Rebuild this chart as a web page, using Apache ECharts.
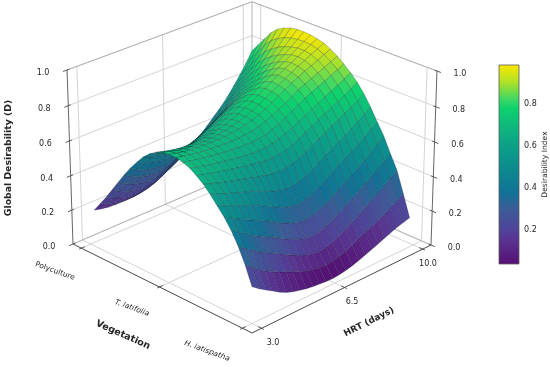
<!DOCTYPE html>
<html><head><meta charset="utf-8">
<style>html,body{margin:0;padding:0;background:#fff}#c{width:550px;height:367px}</style>
<script src="https://cdn.jsdelivr.net/npm/echarts@6/dist/echarts.min.js"></script></head>
<body><div id="c"></div>
<script>
const vegetationTicks=['Polyculture','T. latifolia','H. latispatha'];
const hrtTicks=['3.0','6.5','10.0'];
const zTicks=[0,0.2,0.4,0.6,0.8,1];
const colorbarTicks=[0.2,0.4,0.6,0.8];
const colorValues=[0.038,0.15,0.2,0.3,0.38,0.5,0.6,0.7,0.78,0.82,0.9,0.986];
const colorHex=['#550f73','#5a3290','#50429a','#3c5c98','#117296','#0b8c8e','#0ca088','#0fba7c','#0cd26c','#3cd764','#aae12a','#fde700'];
// one list per vegetation position (Polyculture to H. latispatha), each running from HRT 3 to HRT 10
const surfaceZ=[
[.20,.19,.183,.18,.18,.183,.19,.202,.218,.236,.257,.278,.30,.318,.338,.36,.388,.422,.46,.497,.539,.588,.64,.697,.76],
[.255,.238,.225,.217,.213,.214,.22,.234,.251,.273,.296,.32,.345,.366,.388,.41,.439,.472,.51,.548,.592,.64,.693,.75,.81],
[.31,.288,.272,.261,.255,.254,.26,.274,.293,.317,.339,.365,.39,.413,.436,.46,.49,.524,.56,.60,.644,.6925,.744,.80,.86],
[.37,.346,.327,.314,.306,.305,.31,.325,.346,.366,.39,.415,.44,.465,.49,.515,.545,.579,.615,.656,.699,.746,.797,.853,.91],
[.43,.405,.387,.374,.366,.365,.37,.385,.406,.425,.448,.471,.495,.52,.545,.57,.599,.631,.665,.704,.747,.792,.841,.892,.945],
[.49,.465,.446,.433,.425,.424,.43,.446,.468,.486,.509,.532,.555,.579,.602,.625,.652,.68,.71,.747,.787,.829,.872,.918,.965],
[.545,.522,.504,.4925,.485,.484,.49,.505,.525,.544,.566,.587,.61,.633,.654,.675,.698,.723,.75,.784,.82,.858,.897,.938,.98],
[.595,.576,.561,.551,.545,.545,.55,.563,.58,.596,.615,.635,.655,.675,.695,.715,.737,.76,.785,.816,.848,.881,.915,.95,.986],
[.64,.624,.611,.6025,.597,.597,.60,.609,.622,.637,.653,.671,.69,.71,.729,.75,.771,.792,.815,.842,.871,.8985,.927,.957,.986],
[.675,.66,.648,.64,.635,.633,.635,.642,.651,.664,.679,.696,.713,.733,.753,.775,.796,.818,.84,.865,.888,.912,.936,.959,.983],
[.70,.688,.678,.671,.666,.664,.665,.669,.676,.685,.696,.709,.725,.744,.764,.786,.809,.832,.855,.876,.896,.916,.936,.956,.975],
[.715,.704,.694,.6875,.683,.68,.68,.682,.686,.6925,.701,.712,.725,.742,.762,.783,.805,.828,.85,.87,.89,.909,.928,.946,.965],
[.72,.711,.703,.6975,.693,.691,.69,.69,.692,.696,.701,.709,.72,.736,.754,.775,.797,.818,.84,.859,.878,.894,.911,.928,.945],
[.72,.711,.703,.696,.691,.687,.685,.683,.682,.683,.686,.691,.70,.714,.731,.751,.772,.793,.815,.834,.85,.8675,.885,.902,.92],
[.71,.701,.692,.685,.679,.674,.67,.665,.662,.66,.66,.663,.67,.684,.70,.72,.741,.763,.784,.802,.819,.8365,.8535,.872,.89],
[.695,.684,.674,.665,.658,.651,.645,.639,.634,.63,.628,.63,.635,.646,.66,.678,.698,.718,.738,.756,.775,.794,.813,.834,.855],
[.67,.659,.649,.639,.631,.623,.615,.606,.599,.5925,.588,.587,.59,.60,.614,.632,.652,.673,.6925,.712,.73,.75,.7695,.793,.815],
[.64,.626,.613,.601,.59,.58,.57,.558,.548,.539,.532,.529,.53,.54,.554,.5725,.593,.616,.6365,.657,.676,.6965,.7165,.74,.765],
[.60,.585,.571,.556,.542,.529,.515,.498,.482,.467,.455,.447,.445,.454,.469,.489,.512,.538,.5605,.583,.604,.6265,.6495,.677,.705],
[.555,.538,.521,.504,.488,.472,.455,.433,.413,.393,.376,.365,.36,.369,.384,.405,.43,.456,.4815,.505,.529,.5525,.5775,.605,.635],
[.51,.487,.465,.444,.424,.405,.385,.362,.34,.32,.302,.291,.285,.293,.307,.327,.351,.376,.402,.427,.4515,.478,.506,.5375,.57],
[.455,.427,.40,.375,.353,.331,.31,.287,.265,.245,.228,.216,.21,.217,.231,.25,.273,.298,.323,.348,.374,.40,.427,.455,.485],
[.385,.354,.326,.30,.277,.255,.235,.212,.191,.172,.156,.145,.14,.146,.158,.175,.196,.219,.244,.269,.2935,.32,.347,.3755,.405],
[.30,.267,.237,.21,.188,.168,.15,.131,.115,.10,.089,.082,.08,.084,.093,.105,.123,.143,.165,.175,.195,.215,.24,.26,.285],
[.195,.165,.14,.115,.09,.07,.055,.045,.035,.03,.025,.022,.02,.023,.03,.04,.052,.066,.08,.095,.11,.125,.14,.15,.16]
];
const PAD=0.05,SURF_PAD=0.062;
const cols=surfaceZ.length, rows=surfaceZ[0].length;
const L=[73,244],F=[252,333],R=[431,245],B=[252,167],VP=[252,5465],topY=70;
const dx1=F[0]-R[0],dx2=B[0]-R[0],sx=L[0]-F[0]+R[0]-B[0],dy1=F[1]-R[1],dy2=B[1]-R[1],sy=L[1]-F[1]+R[1]-B[1];
const den=dx1*dy2-dx2*dy1;
const g=(sx*dy2-dx2*sy)/den,h=(dx1*sy-sx*dy1)/den;
const a=F[0]-L[0]+g*F[0],b=B[0]-L[0]+h*B[0],c0=L[0],d=F[1]-L[1]+g*F[1],e=B[1]-L[1]+h*B[1],f0=L[1];
const lam=(topY-L[1])/(VP[1]-topY);
function proj(u,v,w){const W=g*u+h*v+1+w*lam;return [(a*u+b*v+c0+w*lam*VP[0])/W,(d*u+e*v+f0+w*lam*VP[1])/W];}
const uOf=s=>PAD+(1-2*PAD)*s, vOf=t=>PAD+(1-2*PAD)*t;
const uS=s=>SURF_PAD+(1-2*SURF_PAD)*s;
function hexRgb(x){return [parseInt(x.slice(1,3),16),parseInt(x.slice(3,5),16),parseInt(x.slice(5,7),16)];}
function colorAt(z,k){let n=colorValues.length;let i=0;while(i<n-2&&z>colorValues[i+1])i++;
 let q=Math.min(1,Math.max(0,(z-colorValues[i])/(colorValues[i+1]-colorValues[i])));
 const A=hexRgb(colorHex[i]),C=hexRgb(colorHex[i+1]);
 return 'rgb('+[0,1,2].map(m=>Math.round((A[m]+(C[m]-A[m])*q)*k)).join(',')+')';}
const cells=[];
for(let j=0;j<rows-1;j++)for(let i=0;i<cols-1;i++){
 const zm=(surfaceZ[i][j]+surfaceZ[i+1][j]+surfaceZ[i][j+1]+surfaceZ[i+1][j+1])/4;
 const um=uS((i+.5)/(cols-1)),vm=uS((j+.5)/(rows-1));
 cells.push([i,j,zm,(um-vm)*1.77+zm]);
}
cells.sort((p,q)=>p[3]-q[3]);
function cellItem(params,api){
 const i=api.value(0),j=api.value(1),zm=api.value(2);
 const cn=[[i,j],[i+1,j],[i+1,j+1],[i,j+1]];
 const pts=cn.map(([x,y])=>proj(uS(x/(cols-1)),uS(y/(rows-1)),surfaceZ[x][y]));
 let area=0;for(let n=0;n<4;n++){const p=pts[n],q=pts[(n+1)%4];area+=p[0]*q[1]-q[0]*p[1];}
 const under=area>0;
 return {type:'polygon',shape:{points:pts},style:{fill:under?colorAt(zm*0.72,0.92):colorAt(zm,1),stroke:'rgba(15,30,40,0.5)',lineWidth:0.45}};
}
const lines=[];
const pushL=(p,q,col,w)=>lines.push({value:[0],p,q,col,w});
const gridC='#cfcfcf',edgeC='#b4b4b4',axisC='#4a4a4a';
zTicks.forEach(z=>{pushL([0,0,z],[0,1,z],gridC,.9);pushL([0,1,z],[1,1,z],gridC,.9);});
[0,.5,1].forEach(t=>{const v=vOf(t);pushL([0,v,0],[0,v,1],gridC,.9);pushL([0,v,0],[1,v,0],gridC,.9);});
[0,.5,1].forEach(s=>{const u=uOf(s);pushL([u,1,0],[u,1,1],gridC,.9);pushL([u,0,0],[u,1,0],gridC,.9);});
pushL([0,0,1],[0,1,1],edgeC,1);pushL([0,1,1],[1,1,1],edgeC,1);pushL([0,1,0],[0,1,1],edgeC,1);
pushL([0,0,0],[0,1,0],edgeC,1);pushL([0,1,0],[1,1,0],edgeC,1);
pushL([0,0,0],[1,0,0],axisC,1);pushL([1,0,0],[1,1,0],axisC,1);pushL([0,0,0],[0,0,1],'#666',1);pushL([1,1,0],[1,1,1],'#666',1);
[0,.5,1].forEach(s=>{const u=uOf(s);pushL([u,-.012,0],[u,.018,0],axisC,.9);});
[0,.5,1].forEach(t=>{const v=vOf(t);pushL([1.012,v,0],[.982,v,0],axisC,.9);});
zTicks.forEach(z=>{pushL([0,-.02,z],[0,.012,z],axisC,.9);pushL([1.02,1,z],[.988,1,z],axisC,.9);});
function lineItem(params){const l=lines[params.dataIndex];const A=proj(...l.p),C=proj(...l.q);
 return {type:'line',shape:{x1:A[0],y1:A[1],x2:C[0],y2:C[1]},style:{stroke:l.col,lineWidth:l.w}};}
const TC='#262626';
const texts=[];
const pushT=(t,x,y,size,rot,weight,italic)=>texts.push({t,x,y,size,rot,weight,italic});
zTicks.forEach(z=>{const P=proj(0,0,z),Q=proj(1,1,z);const s=z.toFixed(1);pushT(s,P[0]-24,P[1]+3,8,0);pushT(s,Q[0]+23,Q[1]+3,8,0);});
pushT(vegetationTicks[0],55,271,7.5,-20,'normal',false);
pushT(vegetationTicks[1],132,308,7.5,-20,'normal',true);
pushT(vegetationTicks[2],207,351,7.5,-20,'normal',true);
pushT(hrtTicks[0],273,343,8,0);pushT(hrtTicks[1],352,302,8,0);pushT(hrtTicks[2],428,264,8,0);
pushT('Global Desirability (D)',9,158,9.3,90,'bold');
pushT('Vegetation',123,335,9.5,-24,'bold');
pushT('HRT (days)',369,322,9,27,'bold');
function textItem(params){const o=texts[params.dataIndex];
 return {type:'text',x:o.x,y:o.y,rotation:(o.rot||0)*Math.PI/180,style:{text:o.t,x:0,y:0,align:'center',verticalAlign:'middle',fill:TC,
  font:(o.italic?'italic ':'')+(o.weight==='bold'?'bold ':'')+o.size+'px "DejaVu Sans"'}};}
const cbStops=colorValues.map((v,i)=>({offset:(v-colorValues[0])/(colorValues[colorValues.length-1]-colorValues[0]),color:colorHex[i]}));
const cbMin=colorValues[0],cbMax=colorValues[colorValues.length-1];
const chart=echarts.init(document.getElementById('c'),null,{renderer:'canvas'});
chart.setOption({animation:false,backgroundColor:'#fff',
 grid:{left:499,top:65,width:20,height:199},
 xAxis:{type:'value',min:0,max:1,show:false},
 yAxis:{type:'value',min:cbMin,max:cbMax,position:'right',
  axisLine:{show:false},splitLine:{show:false},
  axisTick:{show:true,length:3,customValues:colorbarTicks,lineStyle:{color:'#333',width:.8}},
  axisLabel:{show:true,customValues:colorbarTicks,formatter:v=>v.toFixed(1),color:TC,fontSize:8,fontFamily:'DejaVu Sans',margin:5},
  name:'Desirability Index',nameLocation:'middle',nameRotate:90,nameGap:22,nameTextStyle:{color:TC,fontSize:7.6,fontFamily:'DejaVu Sans'}},
 series:[
  {type:'custom',coordinateSystem:'none',silent:true,z:1,data:lines.map((l,i)=>[i]),renderItem:lineItem,clip:false},
  {type:'custom',coordinateSystem:'none',silent:true,z:2,data:cells,renderItem:cellItem,progressive:0},
  {type:'custom',coordinateSystem:'none',silent:true,z:3,data:texts.map((l,i)=>[i]),renderItem:textItem},
  {type:'custom',silent:true,z:2,xAxisIndex:0,yAxisIndex:0,data:[[0,cbMin,1,cbMax]],
   renderItem:(p,api)=>{const A=api.coord([api.value(0),api.value(3)]),C=api.coord([api.value(2),api.value(1)]);
    return {type:'rect',shape:{x:A[0],y:A[1],width:C[0]-A[0],height:C[1]-A[1]},
     style:{fill:new echarts.graphic.LinearGradient(0,1,0,0,cbStops),stroke:'#5a5a5a',lineWidth:.8}};}}
 ]});
</script></body></html>
